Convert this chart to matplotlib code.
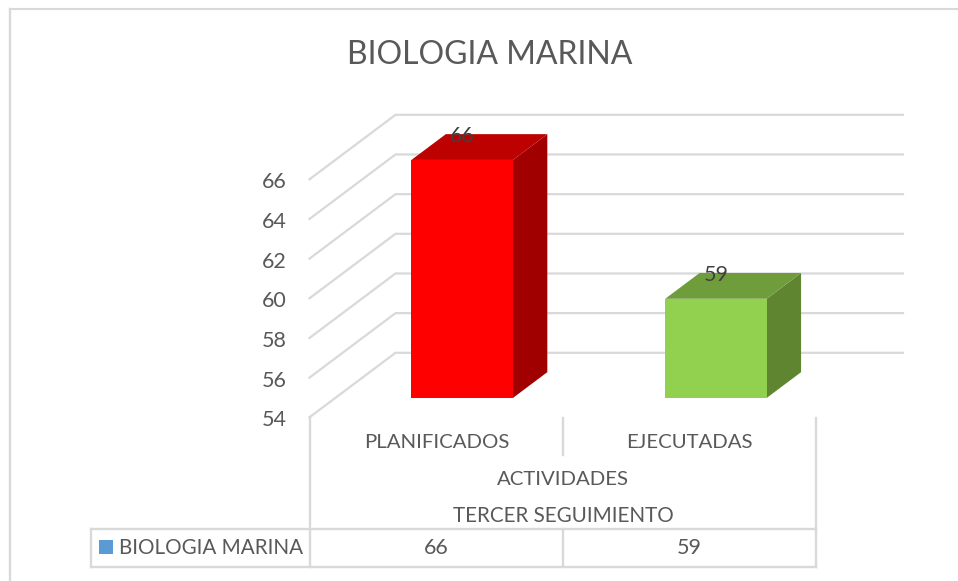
import matplotlib
matplotlib.use("Agg")
import matplotlib.pyplot as plt
from matplotlib.lines import Line2D
from matplotlib.patches import Polygon, Rectangle

categorias = ["PLANIFICADOS", "EJECUTADAS"]
valores = [66, 59]
ticks = [54, 56, 58, 60, 62, 64, 66]
titulo = "BIOLOGIA MARINA"
nivel_1 = "ACTIVIDADES"
nivel_2 = "TERCER SEGUIMIENTO"

colores_frente = ["#ff0000", "#92d050"]
colores_arriba = ["#bd0000", "#6f9d3c"]
colores_lado = ["#a10000", "#5f8530"]

W, H = 958, 581
GRIS = "#d9d9d9"
TEXTO = "#595959"

plt.rcParams["font.family"] = ["Lato", "DejaVu Sans"]

fig = plt.figure(figsize=(W / 100, H / 100), dpi=100, facecolor="white")

# el plano frontal del eje va de x=309.5 a 817 y de y=417 a 179 en pixeles
ax = fig.add_axes([309.5 / W, 1 - 417.3 / H, 507.5 / W, 238 / H])
ax.set_xlim(0, 2)
ax.set_ylim(54, 66)
ax.axis("off")

# desplazamiento de la pared del fondo, en unidades de datos
DX = 86 / 253.75
DY = 64.5 / (238 / 12)


def proy(x, y, d):
    return (x + d * DX, y + d * DY)


def fx(p):
    return p / W


def fy(p):
    return 1 - p / H


def linea_fig(x0, y0, x1, y1, lw=1.7):
    fig.add_artist(Line2D([fx(x0), fx(x1)], [fy(y0), fy(y1)], color=GRIS, lw=lw))


def texto_fig(x, y, s, size=14.7, ha="center", color=TEXTO):
    fig.text(fx(x), fy(y), s, fontsize=size, ha=ha, va="center", color=color)


# rejilla
for t in ticks:
    p0 = proy(0, t, 0)
    p1 = proy(0, t, 1)
    p2 = proy(2, t, 1)
    ax.plot([p0[0], p1[0], p2[0]], [p0[1], p1[1], p2[1]], color=GRIS, lw=1.6,
            clip_on=False, zorder=1, solid_joinstyle="miter")
    ax.annotate(str(t), (0, t), xytext=(-22.5, -3), textcoords="offset pixels",
                fontsize=15.5, color=TEXTO, ha="right", va="center",
                annotation_clip=False)

# barras
ancho = 0.4
d0, d1 = 0.3, 0.7
for i, v in enumerate(valores):
    x0 = i + 0.5 - ancho / 2
    x1 = i + 0.5 + ancho / 2
    frente = [proy(x0, 54, d0), proy(x1, 54, d0), proy(x1, v, d0), proy(x0, v, d0)]
    arriba = [proy(x0, v, d0), proy(x1, v, d0), proy(x1, v, d1), proy(x0, v, d1)]
    lado = [proy(x1, 54, d0), proy(x1, 54, d1), proy(x1, v, d1), proy(x1, v, d0)]
    ax.add_patch(Polygon(lado, fc=colores_lado[i], ec="none", clip_on=False, zorder=3))
    ax.add_patch(Polygon(arriba, fc=colores_arriba[i], ec="none", clip_on=False, zorder=3))
    ax.add_patch(Polygon(frente, fc=colores_frente[i], ec="none", clip_on=False, zorder=4))
    ex = proy(i + 0.5, v, d0)[0]
    ey = proy(i + 0.5, v, d1)[1]
    ax.annotate(str(v), (ex, ey), xytext=(0, -2), textcoords="offset pixels",
                fontsize=15.5, color="#404040", ha="center", va="center",
                annotation_clip=False, zorder=5)

# borde del grafico
linea_fig(10, 9, W, 9, lw=1.5)
linea_fig(10, 9, 10, H, lw=1.7)

# tabla de datos
linea_fig(310, 417, 310, 567)
linea_fig(815.5, 418, 815.5, 567)
linea_fig(563, 418, 563, 455)
linea_fig(563, 528.5, 563, 567)
linea_fig(91, 528.5, 816, 528.5)
linea_fig(91, 567, 816, 567)
linea_fig(91, 528.5, 91, 567)

fig.add_artist(Rectangle((fx(99), fy(554)), 14 / W, 14 / H, fc="#5b9bd5", ec="none"))
texto_fig(119, 547.5, titulo, size=14.9, ha="left")

texto_fig(437, 442.5, categorias[0])
texto_fig(689.5, 442.5, categorias[1])
texto_fig(563, 479.5, nivel_1)
texto_fig(563, 515.5, nivel_2, size=14.9)
texto_fig(436.5, 548, str(valores[0]), size=15.5)
texto_fig(689.5, 548, str(valores[1]), size=15.5)

texto_fig(490, 55, titulo, size=23)

fig.savefig("out.png", dpi=100)
